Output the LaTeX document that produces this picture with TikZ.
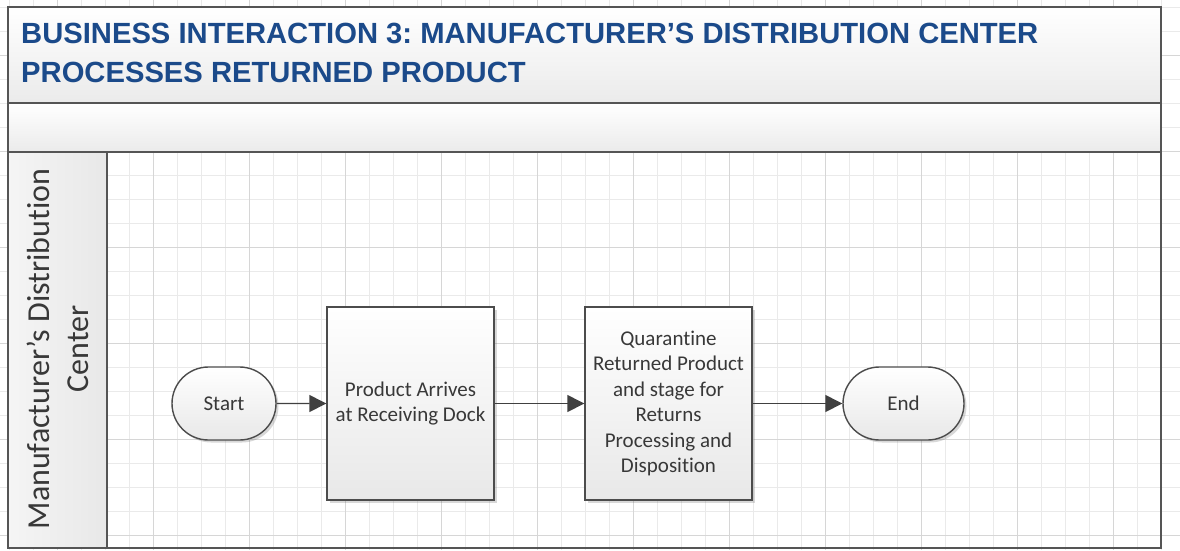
\documentclass[tikz,border=0pt]{standalone}
\usepackage{fontspec}
\setmainfont{Carlito}[Ligatures=NoCommon]
\newfontfamily\titlefont{Liberation Sans}
\usetikzlibrary{arrows.meta,shapes.misc,shadows}
\definecolor{titleblue}{HTML}{1B4A8A}
\definecolor{framegray}{HTML}{555555}
\definecolor{txtgray}{HTML}{383838}
\definecolor{gridminor}{HTML}{EAEAEA}
\definecolor{gridmajor}{HTML}{D6D6D6}
\frenchspacing
\tikzset{
  minorline/.style={draw=gridminor,line width=0.9pt},
  majorline/.style={draw=gridmajor,line width=1pt},
  framestyle/.style={draw=framegray,line width=1.6pt},
  shapeshadow/.style={drop shadow={shadow xshift=2.5pt,shadow yshift=-2.5pt,opacity=0.25,fill=black!60}},
  term/.style={rounded rectangle,draw=black!70,line width=1.4pt,top color=white,bottom color=black!9,
    minimum height=73pt,text=txtgray,font=\fontsize{21}{25.5}\selectfont,shapeshadow,inner sep=0pt},
  proc/.style={rectangle,draw=black!70,line width=1.4pt,top color=white,bottom color=black!9,
    minimum width=167pt,minimum height=193pt,text=txtgray,align=center,
    font=\fontsize{21}{25.5}\selectfont,shapeshadow,inner sep=2pt},
  flow/.style={draw=black!75,line width=1.4pt,-{Triangle[length=17pt,width=17pt]}},
  titletext/.style={text=titleblue,font=\titlefont\bfseries\fontsize{29.2}{34}\selectfont,inner sep=0pt}
}
\begin{document}
\begin{tikzpicture}[x=1pt,y=-1pt]
\useasboundingbox (0,0) rectangle (1180,550);
\fill[white] (0,0) rectangle (1180,550);
% grid
\foreach \xx in {9.3,33.3,...,1162} \draw[minorline] (\xx,0) -- (\xx,550);
\foreach \yy in {7.3,31.3,...,550} \draw[minorline] (0,\yy) -- (1180,\yy);
\foreach \xx in {57.3,153.3,...,1162} \draw[majorline] (\xx,0) -- (\xx,550);
\foreach \yy in {55.3,151.3,...,550} \draw[majorline] (0,\yy) -- (1180,\yy);
% bands
\shade[top color=white,bottom color=black!8] (8,7) rectangle (1161,103);
\shade[top color=white,bottom color=black!8] (8,103) rectangle (1161,152);
\shade[left color=black!4,right color=black!9] (8,152) rectangle (107,548);
\draw[framestyle] (8,7) rectangle (1161,548);
\draw[framestyle] (8,103) -- (1161,103);
\draw[framestyle] (8,152) -- (1161,152);
\draw[framestyle] (107,152) -- (107,548);
% title
\node[titletext,anchor=base west] (t1) at (21,43) {BUSINESS INTERACTION 3: MANUFACTURER’S DISTRIBUTION CENTER};
\node[titletext,anchor=base west] (t2) at (21,82) {PROCESSES RETURNED PRODUCT};
% lane label
\node[rotate=90,align=center,text=txtgray,font=\fontsize{32}{39}\selectfont] (lane) at (58,349) {Manufacturer’s Distribution\\Center};
% nodes
\node[term,minimum width=104pt] (start) at (224,403.5) {Start};
\node[proc] (recv) at (410.5,403.5) {Product Arrives\\at Receiving Dock};
\node[proc] (quar) at (668.5,403.5) {Quarantine\\Returned Product\\and stage for\\Returns\\Processing and\\Disposition};
\node[term,minimum width=121pt] (end) at (903.5,403.5) {End};
% connectors
\draw[flow] (start) -- (recv);
\draw[flow] (recv) -- (quar);
\draw[flow] (quar) -- (end);
\end{tikzpicture}
\end{document}
